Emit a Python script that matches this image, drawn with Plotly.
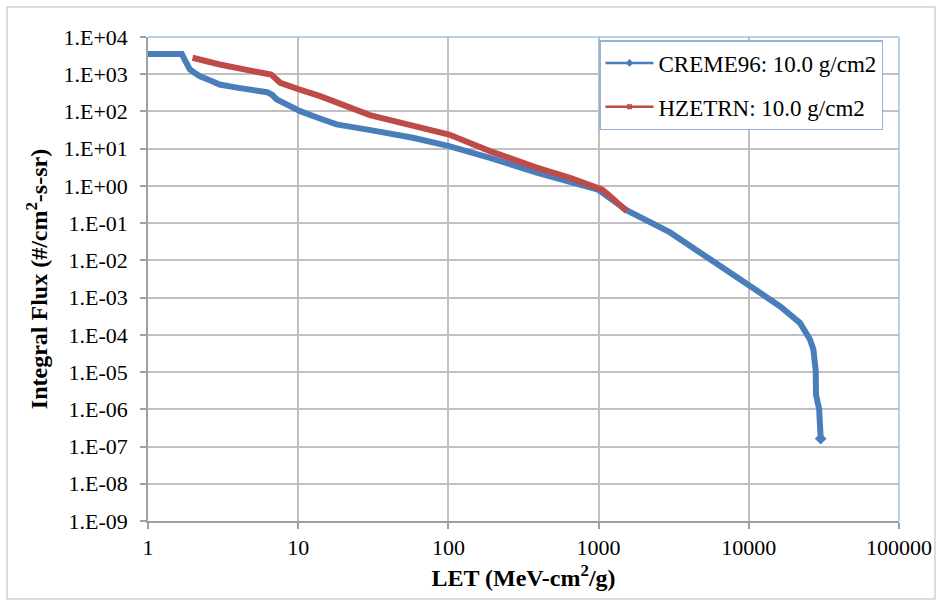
import plotly.graph_objects as go

# ---- data ----
creme_let = [1.0, 1.68, 1.75, 1.82, 1.9, 2.05, 2.22, 2.6, 3.0, 4.0, 5.0, 6.2, 6.7, 7.2, 8.5, 10.3, 13.5,
             18.0, 31, 58, 101, 189, 387, 645, 990, 1545, 2990, 4730, 10000, 16100, 21900, 25500,
             26900, 27900, 28000, 29400, 30100]
creme_flux = [3500, 3500, 2500, 1750, 1340, 1080, 883, 680, 530, 430, 373, 330, 280, 210, 150, 102, 68,
              45, 31, 19.7, 11.7, 5.7, 2.26, 1.35, 0.80, 0.22, 0.0565, 0.0164, 0.00213, 5.9e-4, 2.1e-4,
              7.6e-5, 4.1e-5, 1.07e-5, 2.5e-6, 1.0e-6, 1.63e-7]

hz_let = [1.98, 3.0, 5.0, 6.6, 7.1, 7.6, 10, 14, 30, 61.5, 101, 189, 387, 645, 1050, 1160, 1540]
hz_flux = [2770, 1830, 1210, 985, 760, 590, 400, 257, 80, 40, 24, 8.6, 3.1, 1.66, 0.80, 0.59, 0.21]

x_ticks = [1, 10, 100, 1000, 10000, 100000]
x_ticktext = ["1", "10", "100", "1000", "10000", "100000"]
y_ticks = [10.0 ** e for e in range(4, -10, -1)]
y_ticktext = ["1.E+04", "1.E+03", "1.E+02", "1.E+01", "1.E+00", "1.E-01", "1.E-02", "1.E-03",
              "1.E-04", "1.E-05", "1.E-06", "1.E-07", "1.E-08", "1.E-09"]

names = ["CREME96: 10.0 g/cm2", "HZETRN: 10.0 g/cm2"]
BLUE = "#4A7EBB"
RED = "#BE4B48"
FONT = "Liberation Serif, Times New Roman, serif"

fig = go.Figure()
fig.add_trace(go.Scatter(x=creme_let, y=creme_flux, mode="lines",
                         line=dict(color=BLUE, width=6), showlegend=False))
fig.add_trace(go.Scatter(x=creme_let[-1:], y=creme_flux[-1:], mode="markers",
                         marker=dict(symbol="diamond", size=9, color=BLUE), showlegend=False))
fig.add_trace(go.Scatter(x=hz_let, y=hz_flux, mode="lines",
                         line=dict(color=RED, width=6), showlegend=False))
# legend entries (thin line with small marker like the reference)
fig.add_trace(go.Scatter(x=[None], y=[None], mode="lines+markers", name=names[0], legendgroup="a",
                         line=dict(color=BLUE, width=2.5), marker=dict(symbol="diamond", size=6, color=BLUE)))
fig.add_trace(go.Scatter(x=[None], y=[None], mode="lines+markers", name=names[1], legendgroup="b",
                         line=dict(color=RED, width=2.5), marker=dict(symbol="square", size=5, color=RED)))

L, R, T, B = 148, 41, 37, 82
W, H = 940, 603
pw, ph = W - L - R, H - T - B

def px(x):
    return (x - L) / pw

def py(y):
    return (H - B - y) / ph

fig.update_layout(
    width=W, height=H,
    margin=dict(l=L, r=R, t=T, b=B, autoexpand=False),
    paper_bgcolor="white", plot_bgcolor="white",
    font=dict(family=FONT, size=22, color="black"),
    legend=dict(x=px(599), y=py(40), xanchor="left", yanchor="top",
                bordercolor="#95B3D7", borderwidth=1.5, bgcolor="white",
                itemwidth=48, entrywidth=292,
                font=dict(family=FONT, size=23), traceorder="grouped", tracegroupgap=11),
    shapes=[
        dict(type="rect", xref="paper", yref="paper", x0=px(7), x1=px(935), y0=py(599), y1=py(7),
             line=dict(color="#D0D0D0", width=1.5), layer="below"),
        dict(type="line", xref="paper", yref="paper", x0=0, x1=1, y0=1, y1=1,
             line=dict(color="#9DC3E6", width=1.5)),
        dict(type="line", xref="paper", yref="paper", x0=1, x1=1, y0=0, y1=1,
             line=dict(color="#9DC3E6", width=1.5)),
    ],
)

fig.update_xaxes(type="log", range=[0, 5], tickvals=x_ticks, ticktext=x_ticktext, automargin=False,
                 showgrid=True, gridcolor="#C0C0C0", gridwidth=1.5,
                 showline=True, linecolor="#A0A0A0", linewidth=1.5,
                 ticks="outside", ticklen=6, tickcolor="#A0A0A0", tickwidth=1.5,
                 tickfont=dict(family=FONT, size=22), zeroline=False,
                 title=dict(text="<b>LET (MeV-cm<sup>2</sup>/g)</b>", font=dict(family=FONT, size=24),
                            standoff=10))
fig.update_yaxes(type="log", range=[-9, 4], tickvals=y_ticks, ticktext=y_ticktext, automargin=False,
                 showgrid=True, gridcolor="#C0C0C0", gridwidth=1.5,
                 showline=True, linecolor="#A0A0A0", linewidth=1.5,
                 ticks="outside", ticklen=6, tickcolor="#A0A0A0", tickwidth=1.5,
                 ticklabelstandoff=8,
                 tickfont=dict(family=FONT, size=22), zeroline=False,
                 title=dict(text="<b>Integral Flux (#/cm<sup>2</sup>-s-sr)</b>", font=dict(family=FONT, size=24),
                            standoff=9))

fig.write_html("out.html", config={"displayModeBar": False},
               post_script="document.body.style.margin='0';")
